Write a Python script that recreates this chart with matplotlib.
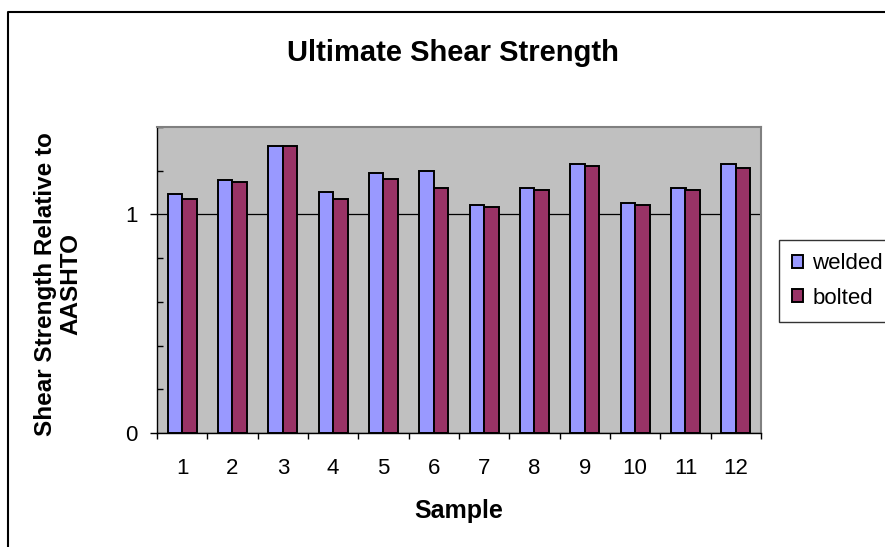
import matplotlib
matplotlib.use("Agg")
from matplotlib import pyplot as plt
from matplotlib.lines import Line2D
import numpy as np

plt.rcParams['font.family'] = ['Liberation Sans', 'DejaVu Sans']

# values (relative to AASHTO)
samples = ['1', '2', '3', '4', '5', '6', '7', '8', '9', '10', '11', '12']
welded = [1.095, 1.156, 1.315, 1.104, 1.189, 1.197, 1.044, 1.121, 1.232, 1.052, 1.121, 1.232]
bolted = [1.070, 1.147, 1.315, 1.070, 1.164, 1.121, 1.035, 1.113, 1.223, 1.044, 1.113, 1.214]
series_names = ['welded', 'bolted']
series_colors = ['#9999FF', '#993366']

W, H = 885, 547
fig = plt.figure(figsize=(W / 100, H / 100), dpi=100)
ax = fig.add_axes([157 / W, 1 - 433 / H, (761 - 157) / W, (433 - 127) / H])
ax.set_facecolor('#C0C0C0')

x = np.arange(len(samples))
bw = 1 / 3.5
for i, (vals, name, col) in enumerate(zip([welded, bolted], series_names, series_colors)):
    ax.bar(x + (i - 0.5) * bw, vals, width=bw, color=col, edgecolor='black',
           linewidth=1.4, label=name, zorder=3)

ax.set_xlim(-0.5, len(samples) - 0.5)
ax.set_ylim(0, 1.4)

# y axis: labelled 0 and 1, small inner ticks every 0.2
ax.set_yticks([0, 1])
ax.set_yticks(np.arange(0.2, 1.41, 0.2), minor=True)
ax.tick_params(axis='y', which='major', direction='out', length=5, width=1,
               labelsize=16, pad=9)
ax.tick_params(axis='y', which='minor', direction='in', length=4.5, width=1)
ax.yaxis.grid(True, which='major', color='black', linewidth=0.9, zorder=1)

# x axis: ticks between categories, labels at centres
ax.set_xticks(np.arange(-0.5, len(samples), 1.0))
ax.set_xticklabels([])
ax.set_xticks(x, minor=True)
ax.set_xticklabels(samples, minor=True)
ax.tick_params(axis='x', which='major', direction='out', length=4.5, width=1)
ax.tick_params(axis='x', which='minor', length=0, labelsize=16, pad=18)
ax.set_axisbelow(True)

for s in ['left', 'bottom']:
    ax.spines[s].set_color('black')
    ax.spines[s].set_linewidth(1)
for s in ['top', 'right']:
    ax.spines[s].set_color('#808080')
    ax.spines[s].set_linewidth(1.5)

fig.text(453 / W, 1 - 53 / H, 'Ultimate Shear Strength', ha='center', va='center',
         fontsize=21, fontweight='bold')
fig.text(459 / W, 1 - 511 / H, 'Sample', ha='center', va='center',
         fontsize=18, fontweight='bold')
fig.text(58.5 / W, 1 - 284 / H, 'Shear Strength Relative to\nAASHTO', rotation=90,
         ha='center', va='center', multialignment='center', fontsize=17.5,
         fontweight='bold', linespacing=1.15)

leg = ax.legend(loc='upper left', bbox_to_anchor=(779 / W, 1 - 240 / H),
                bbox_transform=fig.transFigure, fontsize=16, frameon=True,
                fancybox=False, edgecolor='black', handlelength=0.5,
                handleheight=0.5, handletextpad=0.4, labelspacing=0.6,
                borderpad=0.6, borderaxespad=0)
leg.get_frame().set_linewidth(1)

# chart area border (right/bottom run off the picture)
fig.add_artist(Line2D([8 / W, 8 / W, 1.01], [-0.01, 1 - 12 / H, 1 - 12 / H],
                      transform=fig.transFigure, color='black', linewidth=1.5))

fig.savefig('out.png', dpi=100)
